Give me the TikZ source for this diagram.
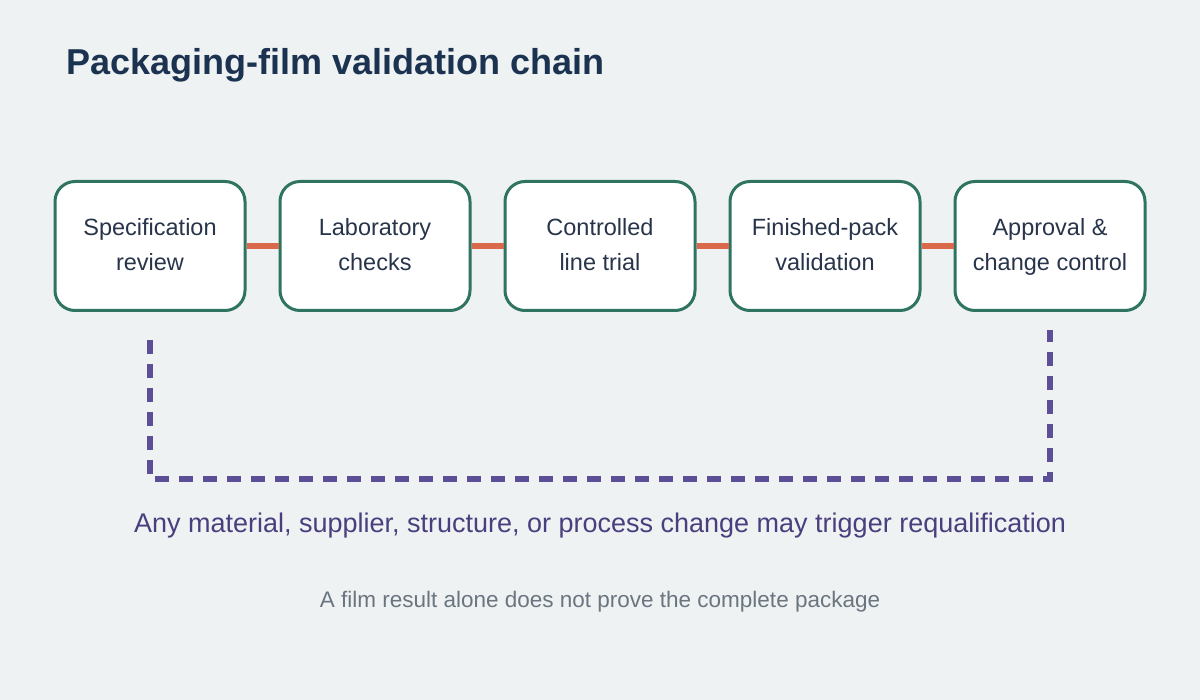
\documentclass[tikz,border=0pt]{standalone}
\usepackage{fontspec}
\setmainfont{Liberation Sans}
\definecolor{bg}{HTML}{EEF2F3}
\definecolor{boxborder}{HTML}{2F7460}
\definecolor{link}{HTML}{D9694A}
\definecolor{loop}{HTML}{5C4F97}
\definecolor{titlec}{HTML}{1B3350}
\definecolor{boxtext}{HTML}{27344A}
\definecolor{looptext}{HTML}{4A3F7E}
\definecolor{notec}{HTML}{6B7580}
\begin{document}
\begin{tikzpicture}[x=1pt,y=-1pt,
  stepbox/.style={draw=boxborder, line width=3pt, fill=white, rounded corners=20pt,
    minimum width=190pt, minimum height=129pt, inner sep=0pt, align=center,
    text=boxtext, font=\fontsize{23.5}{35}\selectfont},
  linkline/.style={draw=link, line width=6pt},
  loopline/.style={draw=loop, line width=6pt, dash pattern=on 14pt off 10pt}]
\fill[bg] (0,0) rectangle (1200,700);
\useasboundingbox (0,0) rectangle (1200,700);
\node[anchor=base west, inner sep=0pt, font=\fontsize{36}{42}\selectfont\bfseries, text=titlec] (title) at (66,75) {Packaging-film validation chain};
\node[stepbox] (s1) at (150,246) {\strut Specification\\review\strut};
\node[stepbox] (s2) at (375,246) {\strut Laboratory\\checks\strut};
\node[stepbox] (s3) at (600,246) {\strut Controlled\\line trial\strut};
\node[stepbox] (s4) at (825,246) {\strut Finished-pack\\validation\strut};
\node[stepbox] (s5) at (1050,246) {\strut Approval \&\\change control\strut};
\draw[linkline] (s1.east) -- (s2.west);
\draw[linkline] (s2.east) -- (s3.west);
\draw[linkline] (s3.east) -- (s4.west);
\draw[linkline] (s4.east) -- (s5.west);
\coordinate (la) at (150,340);
\coordinate (lb) at (150,479);
\coordinate (lc) at (1050,479);
\coordinate (ld) at (1050,330);
\draw[loopline] (la) -- (lb) -- (lc) -- (ld);
\node[font=\fontsize{27}{32}\selectfont, text=looptext] (looplabel) at (600,526) {Any material, supplier, structure, or process change may trigger requalification};
\node[font=\fontsize{22.5}{26}\selectfont, text=notec] (note) at (600,602) {A film result alone does not prove the complete package};
\end{tikzpicture}
\end{document}
